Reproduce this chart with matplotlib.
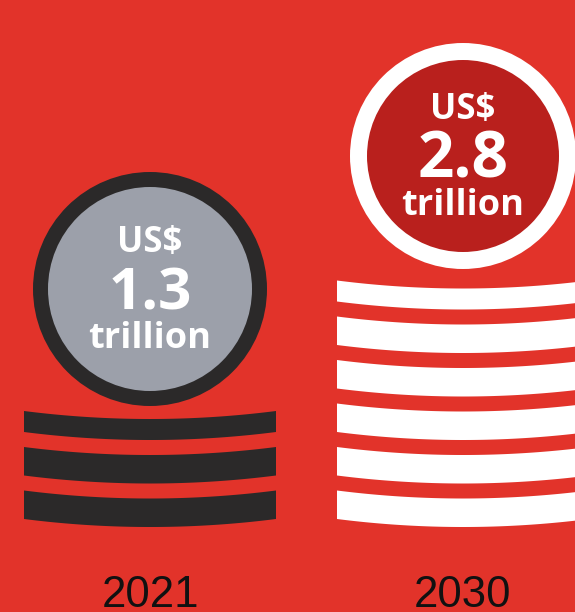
import matplotlib
matplotlib.use("Agg")
import matplotlib.pyplot as plt
import numpy as np
from matplotlib.patches import Circle, Polygon

# market size, US$ trillion
years = ["2021", "2030"]
values = [1.3, 2.8]
stack_counts = [3, 6]

# look of each coin: ring, face, stack colour
ring_colors = ["#2b2929", "#ffffff"]
face_colors = ["#9ca0aa", "#b9201d"]
stack_colors = ["#2b2929", "#ffffff"]
bg = "#e2332a"

# layout in pixels (y grows downward)
W, H = 575, 612
coin_x = [150, 463]
coin_y = [289, 156]
coin_r = [117, 113]
face_r = [102, 96]
num_size = [42, 46]
stack_half = 126
stack_base = 519
pitch = 43.5
thick = 28.5
top_thick = 21
sag = 8

fig = plt.figure(figsize=(W / 100, H / 100), dpi=100, facecolor=bg)
ax = fig.add_axes([0, 0, 1, 1])
ax.set_xlim(0, W)
ax.set_ylim(H, 0)
ax.set_aspect("equal")
ax.axis("off")
ax.set_facecolor(bg)


def coin_band(cx, bottom, top):
    # curved edge band, both edges dip toward the middle
    xs = np.linspace(cx - stack_half, cx + stack_half, 80)
    d = sag * (1 - ((xs - cx) / stack_half) ** 2)
    upper = np.column_stack([xs, top + d])
    lower = np.column_stack([xs[::-1], bottom + d[::-1]])
    return np.vstack([upper, lower])


for i in range(len(years)):
    cx = coin_x[i]
    cy = coin_y[i]
    n = stack_counts[i]
    for k in range(n):
        b = stack_base - k * pitch
        t = b - (top_thick if k == n - 1 else thick)
        ax.add_patch(Polygon(coin_band(cx, b, t), closed=True,
                             facecolor=stack_colors[i], edgecolor="none"))

    ax.add_patch(Circle((cx, cy), coin_r[i], facecolor=ring_colors[i],
                        edgecolor="none"))
    ax.add_patch(Circle((cx, cy), face_r[i], facecolor=face_colors[i],
                        edgecolor="none"))

    # label inside the coin
    ax.text(cx, cy - 37, "US$", color="white",
            fontsize=25, fontweight="bold", family="Open Sans",
            ha="center", va="baseline")
    ax.text(cx, cy + 21, f"{values[i]:.1f}", color="white",
            fontsize=num_size[i], fontweight="bold", family="Open Sans",
            ha="center", va="baseline")
    ax.text(cx, cy + 59, "trillion", color="white",
            fontsize=26, fontweight="bold", family="Open Sans",
            ha="center", va="baseline")

    ax.text(cx, 607, years[i], color="#111111", fontsize=31.5,
            family="Liberation Sans", ha="center", va="baseline")

fig.savefig("out.png", dpi=100, facecolor=bg)
